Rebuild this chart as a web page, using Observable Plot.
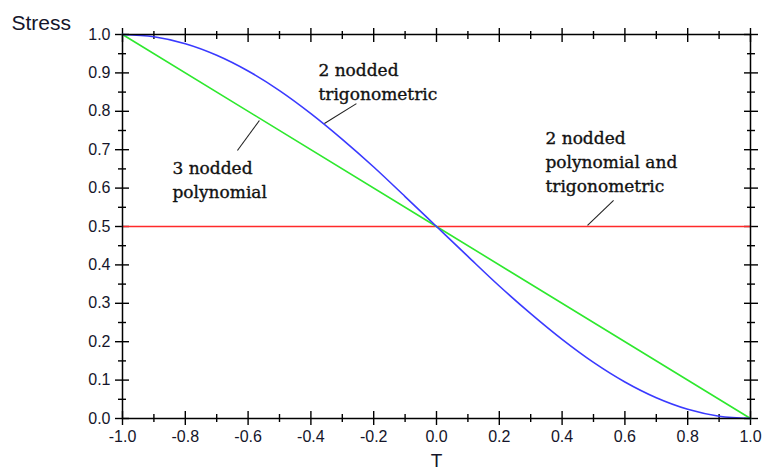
<!DOCTYPE html>
<html>
<head>
<meta charset="utf-8">
<script src="https://cdn.jsdelivr.net/npm/d3@7"></script>
<script src="https://cdn.jsdelivr.net/npm/@observablehq/plot@0.6"></script>
<style>
  html, body { margin: 0; padding: 0; background: #fff; }
  #chart svg { display: block; }
  #chart svg text.tick-text { letter-spacing: 1px; }
</style>
</head>
<body>
<div id="chart"></div>
<script>
// ---- data ----
const tValues = [-1.0, -0.9, -0.8, -0.7, -0.6, -0.5, -0.4, -0.3, -0.2, -0.1, 0.0,
                  0.1,  0.2,  0.3,  0.4,  0.5,  0.6,  0.7,  0.8,  0.9, 1.0];
const trig2Stress = [1.000, 0.994, 0.976, 0.946, 0.905, 0.854, 0.794, 0.727, 0.655, 0.578, 0.500,
                     0.422, 0.345, 0.273, 0.206, 0.146, 0.095, 0.054, 0.024, 0.006, 0.000];
const poly3T = [-1.0, 0.0, 1.0];
const poly3Stress = [1.0, 0.5, 0.0];
const flatT = [-1.0, 1.0];
const flatStress = [0.5, 0.5];

const xMajorTicks = [-1.0, -0.8, -0.6, -0.4, -0.2, 0.0, 0.2, 0.4, 0.6, 0.8, 1.0];
const xMinorTicks = [-0.9, -0.7, -0.5, -0.3, -0.1, 0.1, 0.3, 0.5, 0.7, 0.9];
const yMajorTicks = [0.0, 0.1, 0.2, 0.3, 0.4, 0.5, 0.6, 0.7, 0.8, 0.9, 1.0];
const yMinorTicks = [0.05, 0.15, 0.25, 0.35, 0.45, 0.55, 0.65, 0.75, 0.85, 0.95];

const annotationLabels = ["2 nodded\ntrigonometric", "3 nodded\npolynomial", "2 nodded\npolynomial and\ntrigonometric"];
const annotationX = [-0.376, -0.841, 0.347];
const annotationY = [0.935, 0.680, 0.758];
const leaderX1 = [-0.255, -0.564, 0.564];
const leaderY1 = [0.820, 0.776, 0.568];
const leaderX2 = [-0.357, -0.634, 0.481];
const leaderY2 = [0.768, 0.698, 0.503];

const xLabel = "T";
const yLabel = "Stress";

// ---- tables ----
const trig2 = tValues.map((t, i) => ({t, s: trig2Stress[i]}));
const poly3 = poly3T.map((t, i) => ({t, s: poly3Stress[i]}));
const flat = flatT.map((t, i) => ({t, s: flatStress[i]}));
const notes = annotationLabels.map((label, i) => ({label, x: annotationX[i], y: annotationY[i]}));
const leaders = leaderX1.map((x1, i) => ({x1, y1: leaderY1[i], x2: leaderX2[i], y2: leaderY2[i]}));

const sans = "Liberation Sans, Arial, sans-serif";
const tickFont = {fontSize: 16, fontFamily: sans, fill: "#15152a", className: "tick-text"};
const blank = () => "";

function crossTicksX(anchor, ticks, size, withText) {
  return [
    Plot.axisX(ticks, {anchor, tickSize: size, tickPadding: 5, tickFormat: withText ? (d => d.toFixed(1)) : blank, label: null, strokeWidth: 1.4, ...tickFont}),
    Plot.axisX(ticks, {anchor, tickSize: -size, tickFormat: blank, label: null, strokeWidth: 1.4})
  ];
}
function crossTicksY(anchor, ticks, size, withText) {
  return [
    Plot.axisY(ticks, {anchor, tickSize: size, tickPadding: 5, tickFormat: withText ? (d => d.toFixed(1)) : blank, label: null, strokeWidth: 1.4, ...tickFont}),
    Plot.axisY(ticks, {anchor, tickSize: -size, tickFormat: blank, label: null, strokeWidth: 1.4})
  ];
}

const chart = Plot.plot({
  width: 762,
  height: 471,
  marginLeft: 122,
  marginRight: 12,
  marginTop: 34,
  marginBottom: 53,
  x: {domain: [-1, 1]},
  y: {domain: [0, 1]},
  style: {background: "#fff", color: "#000"},
  marks: [
    ...crossTicksX("bottom", xMajorTicks, 7, true),
    ...crossTicksX("bottom", xMinorTicks, 4, false),
    ...crossTicksX("top", xMajorTicks, 7, false),
    ...crossTicksX("top", xMinorTicks, 4, false),
    ...crossTicksY("left", yMajorTicks, 7, true),
    ...crossTicksY("left", yMinorTicks, 4, false),
    ...crossTicksY("right", yMajorTicks, 7, false),
    ...crossTicksY("right", yMinorTicks, 4, false),
    Plot.line(flat, {x: "t", y: "s", stroke: "#ff2a2a", strokeWidth: 1.6}),
    Plot.line(poly3, {x: "t", y: "s", stroke: "#2ee82e", strokeWidth: 1.6}),
    Plot.line(trig2, {x: "t", y: "s", stroke: "#3a3aff", strokeWidth: 1.6, curve: "catmull-rom"}),
    Plot.link(leaders, {x1: "x1", y1: "y1", x2: "x2", y2: "y2", stroke: "#222", strokeWidth: 1.1}),
    Plot.text(notes, {x: "x", y: "y", text: "label", textAnchor: "start", lineAnchor: "top", lineHeight: 1.4,
      fontSize: 17, fontFamily: "DejaVu Serif, serif", fill: "#111", stroke: "#111", strokeWidth: 0.35}),
    Plot.frame({stroke: "#000", strokeWidth: 1.5}),
    Plot.text([yLabel], {frameAnchor: "top-left", dx: -111, dy: -11, textAnchor: "start", lineAnchor: "middle",
      fontSize: 21, fontFamily: sans, fill: "#15152a", className: "tick-text"}),
    Plot.text([xLabel], {frameAnchor: "bottom", dy: 42, textAnchor: "middle", lineAnchor: "middle",
      fontSize: 19, fontFamily: sans, fill: "#15152a"})
  ]
});
document.getElementById("chart").append(chart);
</script>
</body>
</html>
